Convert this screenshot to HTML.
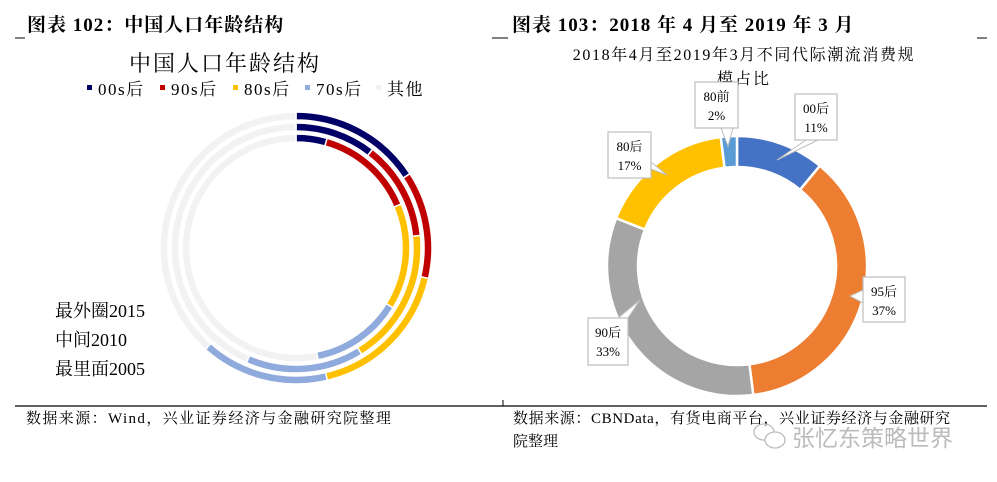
<!DOCTYPE html>
<html><head><meta charset="utf-8"><style>
body{margin:0;background:#fff;}
svg{display:block;font-family:"Liberation Serif","Noto Serif CJK SC",serif;}
</style></head><body>
<svg id="root" width="997" height="482" viewBox="0 0 997 482" xmlns="http://www.w3.org/2000/svg">
<text x="27" y="31" font-size="19" font-weight="bold" fill="#000" letter-spacing="1">图表 102：中国人口年龄结构</text>
<line x1="15" y1="38" x2="25" y2="38" stroke="#000"/>
<line x1="492" y1="38" x2="502" y2="38" stroke="#000"/>
<text x="512" y="31" font-size="19" font-weight="bold" fill="#000" letter-spacing="1">图表 103：2018 年 4 月至 2019 年 3 月</text>
<line x1="500" y1="38" x2="508" y2="38" stroke="#000"/>
<line x1="977" y1="38" x2="987" y2="38" stroke="#000"/>

<text x="225" y="71" font-size="22" text-anchor="middle" fill="#000" letter-spacing="2">中国人口年龄结构</text>
<g id="legend" font-size="17" fill="#000" letter-spacing="1.5"></g>
<g id="leftChart"></g>
<text x="55" y="317" font-size="18">最外圈2015</text>
<text x="55" y="346" font-size="18">中间2010</text>
<text x="55" y="375" font-size="18">最里面2005</text>

<text x="744" y="60" font-size="16" text-anchor="middle" fill="#000" letter-spacing="1.6">2018年4月至2019年3月不同代际潮流消费规</text>
<text x="744" y="84" font-size="16" text-anchor="middle" fill="#000" letter-spacing="2">模占比</text>
<g id="rightChart"></g>
<g id="callouts"></g>

<line x1="15" y1="406" x2="987" y2="406" stroke="#000" stroke-width="1.2"/>
<line x1="503" y1="400" x2="503" y2="406" stroke="#000"/>
<text x="26" y="423" font-size="15" fill="#000" letter-spacing="1.4">数据来源：Wind，兴业证券经济与金融研究院整理</text>
<text x="513" y="423" font-size="15" fill="#000" letter-spacing="0.6">数据来源：CBNData，有货电商平台，兴业证券经济与金融研究</text>
<text x="513" y="446" font-size="15" fill="#000">院整理</text>
<g fill="none" stroke="#bbb" stroke-width="1.3">
<ellipse cx="764" cy="432" rx="10" ry="8"/><ellipse cx="775" cy="440" rx="10" ry="8" fill="#fff"/>
</g>
<text x="792" y="446" font-size="23" fill="#bbb" font-family="'Noto Sans CJK SC',sans-serif">张忆东策略世界</text>
</svg>
<script>
const ns="http://www.w3.org/2000/svg";
const ageCats=["00s后","90s后","80s后","70s后","其他"];
const ageColors=["#000066","#C00000","#FFC000","#8FAADC","#F2F2F2"];
const ring2015=[15.8,12.8,17.7,15.3,38.4];
const ring2010=[10.5,12.9,17.8,15.3,43.5];
const ring2005=[4.4,14.3,15.1,13.1,53.1];
const genCats=["00后","95后","90后","80后","80前"];
const genValues=[11,37,33,17,2];
const genColors=["#4472C4","#ED7D31","#A5A5A5","#FFC000","#5B9BD5"];

function el(tag,attrs,parent){const e=document.createElementNS(ns,tag);for(const k in attrs)e.setAttribute(k,attrs[k]);parent.appendChild(e);return e;}
function pt(cx,cy,r,a){const t=a*Math.PI/180;return[cx+r*Math.sin(t),cy-r*Math.cos(t)];}
function arc(cx,cy,r0,r1,a0,a1){
  const [x0,y0]=pt(cx,cy,r1,a0),[x1,y1]=pt(cx,cy,r1,a1),[x2,y2]=pt(cx,cy,r0,a1),[x3,y3]=pt(cx,cy,r0,a0);
  const lg=(a1-a0)>180?1:0;
  return `M${x0},${y0}A${r1},${r1} 0 ${lg} 1 ${x1},${y1}L${x2},${y2}A${r0},${r0} 0 ${lg} 0 ${x3},${y3}Z`;
}
function donut(g,cx,cy,r0,r1,vals,colors,name,gap){
  const tot=vals.reduce((a,b)=>a+b,0);let a=0;
  vals.forEach((v,i)=>{const a1=a+v/tot*360;
    const p=el('path',{d:arc(cx,cy,r0,r1,a,a1),fill:colors[i],stroke:'#fff','stroke-width':gap},g);
    
    
    a=a1;});
}
const L=document.getElementById('leftChart');
donut(L,296,248,128,136,ring2015,ageColors,'ring-2015-slice',1.5);
donut(L,296,248,117,125,ring2010,ageColors,'ring-2010-slice',1.5);
donut(L,296,248,106,114,ring2005,ageColors,'ring-2005-slice',1.5);

const lg=document.getElementById('legend');
const lx=[87,160,233,305,376];
ageCats.forEach((c,i)=>{
  const r=el('rect',{x:lx[i],y:85,width:5,height:5,fill:ageColors[i]},lg);
  
  
  const t=el('text',{x:lx[i]+11,y:95},lg);t.textContent=c;
  
  
});

const R=document.getElementById('rightChart');
donut(R,737,266,99,130,genValues,genColors,'gen-slice',2.5);

const C=document.getElementById('callouts');
const boxes=[[795,94,42,46],[863,277,42,45],[588,318,40,47],[608,132,43,46],[695,82,43,46]];
const tips=[[[806,140],[818,140],[777,160]],[[863,290],[863,303],[850,296]],[[618,318],[628,318],[640,300]],[[640,165],[651,162],[667,175]],[[721,128],[733,128],[728,146]]];
const tot=genValues.reduce((a,b)=>a+b,0);
genCats.forEach((c,i)=>{
  const [x,y,w,h]=boxes[i];
  const g=el('g',{},C);
  
  
  el('polygon',{points:tips[i].map(p=>p.join(',')).join(' '),fill:'#fff',stroke:'#bfbfbf','stroke-width':1},g);
  el('rect',{x:x,y:y,width:w,height:h,fill:'#fff',stroke:'#bfbfbf','stroke-width':1.2},g);
  const t1=el('text',{x:x+w/2,y:y+19,'font-size':13,'text-anchor':'middle',fill:'#000'},g);t1.textContent=c;
  const t2=el('text',{x:x+w/2,y:y+38,'font-size':13,'text-anchor':'middle',fill:'#000'},g);t2.textContent=Math.round(genValues[i]/tot*100)+'%';
});
</script>
</body></html>
